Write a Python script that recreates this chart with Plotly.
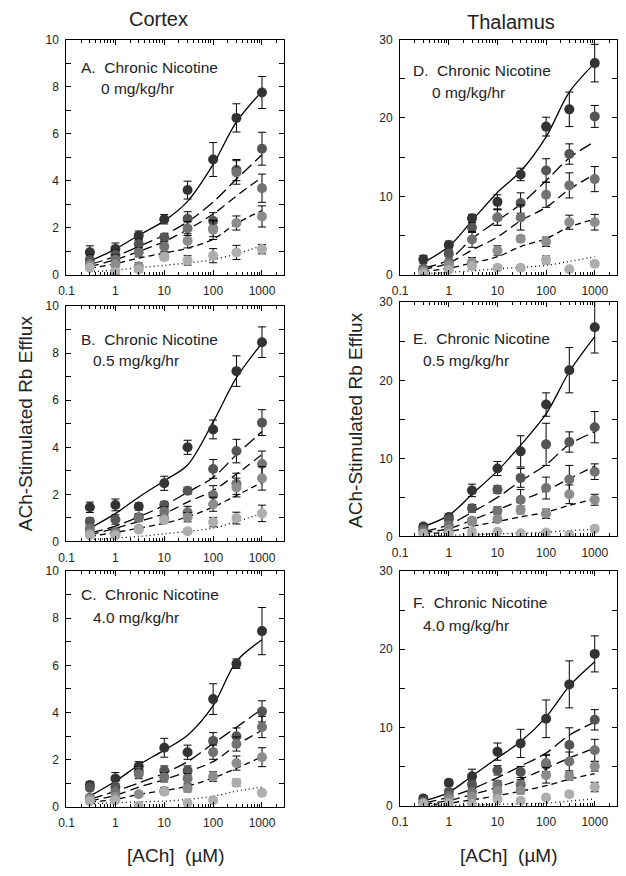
import plotly.graph_objects as go

# ---------------- data ----------------
CONC = [0.3, 1, 3, 10, 30, 100, 300, 1000]          # [ACh] (uM)
X_TICKS = [0.1, 1, 10, 100, 1000]
X_TICK_TEXT = ["0.1", "1", "10", "100", "1000"]

# Cortex, 0 mg/kg/hr (panel A) - five series, darkest first
A_MEAN = [[0.96, 1.10, 1.66, 2.36, 3.60, 4.90, 6.67, 7.75],
          [0.64, 0.85, 1.31, 1.59, 2.38, 2.29, 4.45, 5.36],
          [0.47, 0.64, 0.96, 1.20, 1.97, 1.97, 4.35, 3.68],
          [0.37, 0.45, 0.36, 0.78, 1.44, 1.90, 2.20, 2.48],
          [0.30, 0.12, 0.22, 0.75, 0.61, 0.81, 0.95, 1.09]]
A_SEM = [[0.27, 0.25, 0.20, 0.20, 0.38, 0.72, 0.60, 0.68],
         [0.20, 0.20, 0.20, 0.15, 0.30, 0.35, 0.45, 0.70],
         [0.15, 0.20, 0.20, 0.20, 0.30, 0.35, 0.50, 0.60],
         [0.10, 0.15, 0.15, 0.15, 0.30, 0.40, 0.30, 0.45],
         [0.10, 0.10, 0.10, 0.10, 0.20, 0.30, 0.30, 0.20]]
A_FIT = [[0.58, 1.09, 1.68, 2.29, 3.12, 4.69, 6.50, 7.80],
         [0.43, 0.78, 1.20, 1.69, 2.25, 3.09, 4.07, 5.10],
         [0.35, 0.64, 0.99, 1.41, 1.92, 2.58, 3.35, 4.15],
         [0.27, 0.47, 0.71, 0.92, 1.13, 1.51, 2.18, 2.73],
         [0.12, 0.20, 0.30, 0.40, 0.50, 0.64, 0.89, 1.23]]

# Cortex, 0.5 mg/kg/hr (panel B)
B_MEAN = [[1.45, 1.55, 1.48, 2.47, 4.00, 4.76, 7.24, 8.47],
          [0.85, 0.93, 1.03, 1.55, 2.15, 3.08, 3.84, 5.05],
          [0.54, 0.40, 1.00, 1.27, 1.24, 1.97, 2.45, 3.29],
          [0.33, 0.30, 0.54, 0.96, 1.03, 1.58, 2.29, 2.68],
          [0.26, 0.25, 0.50, 0.90, 0.43, 0.82, 0.99, 1.19]]
B_SEM = [[0.22, 0.25, 0.15, 0.30, 0.30, 0.40, 0.65, 0.65],
         [0.15, 0.20, 0.15, 0.15, 0.15, 0.40, 0.50, 0.55],
         [0.10, 0.15, 0.15, 0.20, 0.25, 0.40, 0.45, 0.55],
         [0.10, 0.10, 0.10, 0.15, 0.20, 0.30, 0.40, 0.50],
         [0.05, 0.08, 0.10, 0.10, 0.10, 0.20, 0.25, 0.35]]
B_FIT = [[0.56, 1.18, 1.88, 2.58, 3.25, 5.08, 6.96, 8.43],
         [0.35, 0.65, 1.04, 1.53, 2.09, 2.72, 3.69, 4.67],
         [0.28, 0.56, 0.84, 1.18, 1.67, 2.16, 2.86, 3.69],
         [0.21, 0.38, 0.56, 0.77, 1.04, 1.46, 1.95, 2.51],
         [0.07, 0.14, 0.21, 0.32, 0.42, 0.56, 0.84, 1.18]]

# Cortex, 4.0 mg/kg/hr (panel C)
C_MEAN = [[0.93, 1.21, 1.72, 2.51, 2.32, 4.57, 6.07, 7.45],
          [0.82, 0.85, 1.51, 1.54, 1.54, 2.80, 3.00, 4.05],
          [0.40, 0.65, 1.40, 1.26, 1.21, 2.32, 2.67, 3.39],
          [0.33, 0.43, 0.54, 0.68, 0.79, 1.29, 1.86, 2.11],
          [0.25, 0.29, 0.05, 0.65, 0.17, 0.29, 1.03, 0.60]]
C_SEM = [[0.15, 0.25, 0.20, 0.40, 0.30, 0.65, 0.20, 1.00],
         [0.12, 0.15, 0.20, 0.20, 0.20, 0.35, 0.35, 0.45],
         [0.10, 0.15, 0.20, 0.20, 0.20, 0.30, 0.30, 0.45],
         [0.08, 0.10, 0.10, 0.15, 0.15, 0.20, 0.30, 0.40],
         [0.05, 0.08, 0.05, 0.10, 0.05, 0.10, 0.15, 0.10]]
C_FIT = [[0.46, 1.09, 1.78, 2.41, 3.04, 4.29, 6.17, 7.08],
         [0.32, 0.67, 1.02, 1.43, 1.92, 2.69, 3.38, 4.15],
         [0.25, 0.50, 0.84, 1.16, 1.50, 1.92, 2.62, 3.25],
         [0.21, 0.32, 0.53, 0.70, 0.88, 1.23, 1.64, 2.13],
         [0.14, 0.18, 0.22, 0.25, 0.32, 0.46, 0.67, 0.84]]

# Thalamus, 0 mg/kg/hr (panel D)
D_MEAN = [[1.97, 3.78, 7.20, 9.30, 12.80, 18.90, 21.10, 27.00],
          [0.80, 2.70, 6.00, 7.30, 9.15, 13.30, 15.40, 20.20],
          [0.60, 1.60, 4.50, 7.30, 7.30, 10.20, 11.40, 12.20],
          [0.40, 1.20, 1.60, 3.10, 4.60, 4.20, 6.70, 6.70],
          [0.15, 0.60, 1.10, 0.90, 0.90, 1.90, 0.70, 1.40]]
D_SEM = [[0.5, 0.5, 0.5, 0.9, 0.8, 1.2, 2.2, 2.4],
         [0.3, 0.4, 0.6, 1.0, 1.3, 1.5, 1.3, 1.4],
         [0.2, 0.4, 1.0, 1.0, 1.6, 1.6, 1.6, 1.6],
         [0.2, 0.3, 0.6, 0.6, 0.4, 0.6, 0.9, 1.0],
         [0.1, 0.2, 0.4, 0.3, 0.3, 0.5, 0.2, 0.3]]
D_FIT = [[1.55, 3.60, 6.90, 10.50, 13.20, 17.60, 23.30, 27.00],
         [0.85, 1.90, 4.60, 6.90, 9.00, 12.00, 14.90, 17.00],
         [0.65, 1.50, 3.15, 4.80, 6.90, 8.60, 10.90, 12.80],
         [0.40, 0.85, 1.50, 2.30, 3.60, 4.60, 6.10, 7.10],
         [0.10, 0.30, 0.50, 0.75, 0.95, 1.20, 1.70, 2.30]]

# Thalamus, 0.5 mg/kg/hr (panel E)
E_MEAN = [[1.26, 2.50, 5.90, 8.70, 10.90, 16.90, 21.30, 26.80],
          [1.00, 2.20, 3.60, 6.00, 7.50, 11.80, 12.10, 14.00],
          [0.70, 1.40, 2.00, 3.30, 4.70, 6.20, 7.30, 8.30],
          [0.40, 0.90, 1.90, 2.20, 3.40, 2.90, 5.40, 4.70],
          [0.30, 0.30, 0.60, 0.60, 0.40, 0.50, 0.20, 1.00]]
E_SEM = [[0.4, 0.4, 0.8, 0.9, 2.0, 1.5, 2.9, 3.3],
         [0.3, 0.3, 0.5, 0.5, 1.2, 2.7, 1.3, 2.0],
         [0.2, 0.3, 0.4, 0.5, 1.3, 1.4, 1.8, 1.0],
         [0.1, 0.2, 0.3, 0.3, 0.5, 0.6, 1.2, 0.7],
         [0.1, 0.1, 0.1, 0.1, 0.1, 0.1, 0.1, 0.3]]
E_FIT = [[1.26, 2.70, 5.40, 8.40, 11.70, 15.70, 21.10, 25.60],
         [0.60, 1.50, 3.10, 5.00, 7.10, 9.20, 11.80, 13.40],
         [0.50, 1.00, 2.10, 3.40, 4.60, 5.90, 7.40, 9.00],
         [0.35, 0.60, 1.30, 1.90, 2.50, 3.10, 4.00, 4.80],
         [0.10, 0.15, 0.20, 0.35, 0.40, 0.55, 0.75, 0.90]]

# Thalamus, 4.0 mg/kg/hr (panel F)
F_MEAN = [[0.96, 2.97, 3.80, 6.94, 7.99, 11.13, 15.52, 19.41],
          [0.59, 1.80, 2.76, 4.56, 4.35, 5.27, 7.78, 11.00],
          [0.45, 1.29, 1.80, 2.76, 2.76, 5.50, 5.69, 7.11],
          [0.34, 0.80, 1.17, 1.92, 2.05, 3.93, 3.80, 5.06],
          [0.30, 0.34, 0.25, 0.88, 0.67, 1.09, 1.51, 2.42]]
F_SEM = [[0.4, 0.4, 0.9, 1.1, 1.8, 2.4, 3.0, 2.3],
         [0.3, 0.4, 0.5, 0.6, 0.7, 1.2, 2.2, 1.3],
         [0.2, 0.3, 0.4, 0.5, 0.6, 1.1, 1.2, 1.4],
         [0.1, 0.2, 0.3, 0.4, 0.5, 1.0, 0.5, 0.6],
         [0.1, 0.1, 0.1, 0.2, 0.2, 0.3, 0.3, 0.6]]
F_FIT = [[0.63, 1.75, 3.84, 6.13, 8.22, 11.35, 15.30, 18.40],
         [0.38, 1.13, 2.17, 3.63, 5.09, 6.76, 9.05, 10.70],
         [0.21, 0.71, 1.46, 2.38, 3.42, 4.80, 6.13, 7.38],
         [0.13, 0.38, 0.79, 1.33, 1.88, 2.59, 3.42, 4.13],
         [0.04, 0.08, 0.13, 0.21, 0.29, 0.38, 0.63, 0.92]]

PANEL_LETTERS = ["A", "B", "C", "D", "E", "F"]
DOSES = ["0 mg/kg/hr", "0.5 mg/kg/hr", "4.0 mg/kg/hr",
         "0 mg/kg/hr", "0.5 mg/kg/hr", "4.0 mg/kg/hr"]
COLUMN_TITLES = ["Cortex", "Thalamus"]
Y_TITLE = "ACh-Stimulated Rb Efflux"
X_TITLE = "[ACh] \u00a0(\u00b5M)"

# ---------------- style / layout ----------------
PAGE_MARGIN = 8                 # default <body> margin of the html page
W, H = 626 - PAGE_MARGIN, 876 - PAGE_MARGIN
FONT = "Liberation Sans, Arial, sans-serif"
MARKER_COLORS = ["#333333", "#555555", "#727272", "#8d8d8d", "#aeaeae"]
DASHES = ["solid", "13px,5px", "9px,5px", "6px,4px", "1px,3px"]

# pixel boxes (in screen pixels) of each panel (left, right, top, bottom)
BOXES = [(59, 280, 33, 272), (59, 280, 304, 543), (59, 280, 573, 813),
         (397, 617, 33, 272), (397, 617, 300, 538), (397, 617, 573, 812)]
LABEL_POS = [((72, 61), (92, 83)), ((72, 338), (84, 359)), ((72, 597), (84, 620)),
             ((408, 64), (427, 87)), ((408, 337), (418, 359)), ((408, 605), (418, 628))]

panels = [(A_MEAN, A_SEM, A_FIT), (B_MEAN, B_SEM, B_FIT), (C_MEAN, C_SEM, C_FIT),
          (D_MEAN, D_SEM, D_FIT), (E_MEAN, E_SEM, E_FIT), (F_MEAN, F_SEM, F_FIT)]

def px(x):
    return (x - PAGE_MARGIN) / W

def py(y):
    return 1 - (y - PAGE_MARGIN) / H

fig = go.Figure()
annotations = []
layout_axes = {}

for i, (means, sems, fits) in enumerate(panels):
    n = i + 1
    xa = "x" if n == 1 else f"x{n}"
    ya = "y" if n == 1 else f"y{n}"
    for s in range(5):
        fig.add_trace(go.Scatter(
            x=CONC, y=fits[s], xaxis=xa, yaxis=ya, mode="lines",
            line=dict(color="black", width=1.3, dash=DASHES[s], shape="spline", smoothing=0.9),
            showlegend=False, hoverinfo="skip"))
    for s in range(5):
        fig.add_trace(go.Scatter(
            x=CONC, y=means[s], xaxis=xa, yaxis=ya, mode="markers",
            marker=dict(size=10, color=MARKER_COLORS[s], line=dict(width=0)),
            error_y=dict(type="data", array=sems[s], visible=True,
                         color="black", thickness=1, width=4),
            showlegend=False))

    l, r, t, b = BOXES[i]
    thal = i >= 3
    common_tick = dict(ticks="inside", ticklen=5, tickwidth=1, tickcolor="black",
                       showline=True, linecolor="black", linewidth=1, mirror="allticks",
                       showgrid=False, zeroline=False,
                       tickfont=dict(family=FONT, size=12, color="#222222"))
    layout_axes["xaxis" if n == 1 else f"xaxis{n}"] = dict(
        type="log", range=[-1.004, 3.46], domain=[px(l), px(r)], anchor=ya,
        tickvals=X_TICKS, ticktext=X_TICK_TEXT, ticklabelstandoff=5,
        minor=dict(ticks="inside", ticklen=3, tickcolor="black", dtick="D1", showgrid=False),
        **common_tick)
    layout_axes["yaxis" if n == 1 else f"yaxis{n}"] = dict(
        range=[0, 30] if thal else [0, 10], domain=[py(b), py(t)], anchor=xa,
        dtick=10 if thal else 2, ticklabelstandoff=4,
        minor=dict(ticks="inside", ticklen=5, tickcolor="black",
                   dtick=5 if thal else 1, showgrid=False),
        **common_tick)

    (lx1, ly1), (lx2, ly2) = LABEL_POS[i]
    annotations.append(dict(x=px(lx1), y=py(ly1), xref="paper", yref="paper",
                            text=f"{PANEL_LETTERS[i]}. \u00a0Chronic Nicotine", showarrow=False,
                            xanchor="left", yanchor="middle",
                            font=dict(family=FONT, size=15.5, color="#222222")))
    annotations.append(dict(x=px(lx2), y=py(ly2), xref="paper", yref="paper",
                            text=DOSES[i], showarrow=False, xanchor="left", yanchor="middle",
                            font=dict(family=FONT, size=15.5, color="#222222")))

# column titles
annotations.append(dict(x=px(152), y=py(12), xref="paper", yref="paper", text=COLUMN_TITLES[0],
                        showarrow=False, xanchor="center", yanchor="middle",
                        font=dict(family=FONT, size=20, color="#222222")))
annotations.append(dict(x=px(509), y=py(15), xref="paper", yref="paper", text=COLUMN_TITLES[1],
                        showarrow=False, xanchor="center", yanchor="middle",
                        font=dict(family=FONT, size=20, color="#222222")))
# y titles
for (xx, yy) in [(17, 423), (352, 420)]:
    annotations.append(dict(x=px(xx), y=py(yy), xref="paper", yref="paper", text=Y_TITLE,
                            showarrow=False, textangle=-90, xanchor="center", yanchor="middle",
                            font=dict(family=FONT, size=19, color="#222222")))
# x titles
for xx in [170, 507]:
    annotations.append(dict(x=px(xx), y=py(862), xref="paper", yref="paper", text=X_TITLE,
                            showarrow=False, xanchor="center", yanchor="middle",
                            font=dict(family=FONT, size=19, color="#222222")))

fig.update_layout(width=W, height=H, margin=dict(l=0, r=0, t=0, b=0),
                  paper_bgcolor="white", plot_bgcolor="white",
                  annotations=annotations, **layout_axes)

fig.write_html("out.html")
